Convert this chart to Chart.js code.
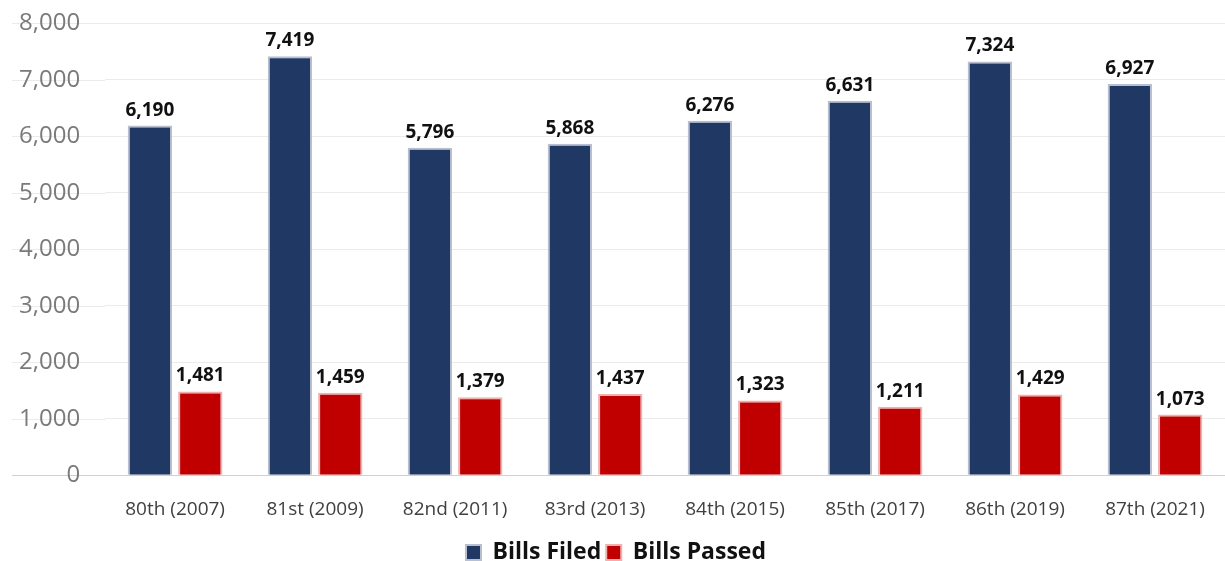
<!DOCTYPE html>
<html>
<head>
<meta charset="utf-8">
<script src="https://cdn.jsdelivr.net/npm/chart.js@4"></script>
<style>
  html, body { margin: 0; padding: 0; background: #fff; overflow: hidden; }
  #wrap { width: 1225px; height: 581px; margin-top: -16px; }
</style>
</head>
<body>
<div id="wrap"><canvas id="billsChart"></canvas></div>
<script>
const sessions = ['80th (2007)', '81st (2009)', '82nd (2011)', '83rd (2013)', '84th (2015)', '85th (2017)', '86th (2019)', '87th (2021)'];
const billsFiled = [6190, 7419, 5796, 5868, 6276, 6631, 7324, 6927];
const billsPassed = [1481, 1459, 1379, 1437, 1323, 1211, 1429, 1073];

// draw the value above every bar
const valueLabels = {
  id: 'valueLabels',
  afterDatasetsDraw(chart) {
    const ctx = chart.ctx;
    ctx.save();
    ctx.font = 'bold 19px "Open Sans"';
    ctx.fillStyle = '#111';
    ctx.textAlign = 'center';
    ctx.textBaseline = 'bottom';
    chart.data.datasets.forEach((ds, i) => {
      chart.getDatasetMeta(i).data.forEach((bar, j) => {
        ctx.fillText(ds.data[j].toLocaleString('en-US'), bar.x, bar.y - 6);
      });
    });
    ctx.restore();
  }
};

// the gridlines run on under the y labels, out to the left edge
const gridUnderLabels = {
  id: 'gridUnderLabels',
  beforeDraw(chart) {
    const ctx = chart.ctx;
    const y = chart.scales.y;
    ctx.save();
    ctx.lineWidth = 1;
    y.ticks.forEach(t => {
      const py = Math.round(y.getPixelForValue(t.value)) + 0.5;
      ctx.strokeStyle = t.value === 0 ? '#d0d0d0' : '#ebebeb';
      ctx.beginPath();
      ctx.moveTo(12, py);
      ctx.lineTo(chart.chartArea.left, py);
      ctx.stroke();
    });
    ctx.restore();
  }
};

const ctx = document.getElementById('billsChart').getContext('2d');
new Chart(ctx, {
  type: 'bar',
  data: {
    labels: sessions,
    datasets: [{
      label: 'Bills Filed',
      data: billsFiled,
      backgroundColor: '#203864',
      borderColor: '#b9bfcf',
      borderWidth: 2
    }, {
      label: 'Bills Passed',
      data: billsPassed,
      backgroundColor: '#c00000',
      borderColor: '#f0b0b0',
      borderWidth: 2
    }]
  },
  options: {
    responsive: true,
    maintainAspectRatio: false,
    animation: false,
    layout: { padding: { left: -6, right: -13, top: 0, bottom: -9 } },
    datasets: {
      bar: { categoryPercentage: 0.72, barPercentage: 0.88 }
    },
    scales: {
      x: {
        grid: { display: false },
        border: { display: false },
        ticks: { color: '#404040', font: { family: 'Open Sans', size: 19 }, padding: 15 }
      },
      y: {
        min: 0,
        max: 8000,
        beginAtZero: true,
        ticks: {
          stepSize: 1000,
          color: '#7a7a7a',
          font: { family: 'Open Sans', size: 24 },
          padding: 25,
          callback: v => v.toLocaleString('en-US')
        },
        grid: {
          color: c => c.tick && c.tick.value === 0 ? '#d0d0d0' : '#ebebeb',
          drawTicks: false
        },
        border: { display: false }
      }
    },
    plugins: {
      legend: {
        position: 'bottom',
        labels: {
          color: '#111',
          font: { family: 'Open Sans', size: 23, weight: 'bold' },
          boxWidth: 15,
          boxHeight: 15,
          padding: 5
        }
      },
      tooltip: { enabled: false }
    }
  },
  plugins: [gridUnderLabels, valueLabels]
});
</script>
</body>
</html>
